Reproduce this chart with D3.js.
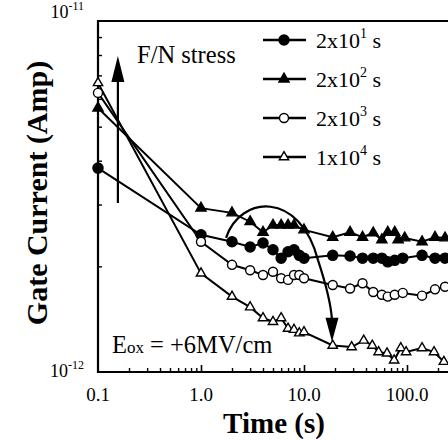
<!DOCTYPE html>
<html>
<head>
<meta charset="utf-8">
<script src="https://cdn.jsdelivr.net/npm/d3@7"></script>
<style>
  body { margin: 0; background: #fff; }
  svg { display: block; font-family: "Liberation Serif", "Times New Roman", serif; }
</style>
</head>
<body>
<div id="chart"></div>
<script>
// Data - time (s) and gate current (in units of 1e-12 A), one pair of arrays per curve
const t2e1 = [0.1, 1, 2, 3, 4, 5, 6, 7, 8, 9, 10, 19, 28, 37, 47, 57, 65, 76, 91, 140, 187, 234];
const i2e1 = [3.81, 2.46, 2.35, 2.27, 2.33, 2.23, 2.11, 2.20, 2.23, 2.15, 2.11, 2.15, 2.14, 2.11, 2.11, 2.11, 2.06, 2.08, 2.11, 2.15, 2.11, 2.11];

const t2e2 = [0.1, 1, 2, 3, 4, 5, 6, 7, 8, 10, 19, 28, 37, 47, 57, 65, 76, 82, 95, 140, 187, 234];
const i2e2 = [5.65, 2.93, 2.84, 2.68, 2.50, 2.62, 2.62, 2.62, 2.62, 2.54, 2.42, 2.50, 2.42, 2.49, 2.38, 2.50, 2.50, 2.38, 2.41, 2.35, 2.42, 2.41];

const t2e3 = [0.1, 1, 2, 3, 4, 5, 6, 7, 8, 9, 10, 19, 28, 37, 47, 57, 65, 76, 91, 140, 187, 234];
const i2e3 = [6.24, 2.35, 2.02, 1.95, 1.89, 1.93, 1.85, 1.83, 1.89, 1.89, 1.85, 1.77, 1.73, 1.79, 1.69, 1.66, 1.64, 1.66, 1.68, 1.65, 1.72, 1.75];

const t1e4 = [0.1, 1, 2, 3, 4, 5, 6, 7, 8, 9, 10, 19, 29, 38, 46, 53, 64, 75, 87, 98, 140, 183, 228];
const i1e4 = [6.66, 1.91, 1.64, 1.53, 1.425, 1.39, 1.425, 1.33, 1.32, 1.29, 1.30, 1.19, 1.178, 1.23, 1.19, 1.14, 1.13, 1.08, 1.17, 1.14, 1.17, 1.14, 1.07];

const seriesNames = ['2x10|1', '2x10|2', '2x10|3', '1x10|4'];
const xTickLabels = ['0.1', '1.0', '10.0', '100.0'];
const xTickValues = [0.1, 1, 10, 100];

// Annotations, in data units (time, current)
const fnArrow = [[0.156, 3.03], [0.156, 7.95]];
const recoveryArc = [[1.75, 2.41], [2.39, 3.19], [9.14, 3.30], [13.7, 2.08], [16.2, 1.79], [18.4, 1.55], [18.7, 1.40]];
const recoveryTip = [18.7, 1.22];

const width = 448, height = 440;

// Scales
const x = d3.scaleLog().domain([0.1, 100]).range([98, 407]);
const y = d3.scaleLog().domain([1, 10]).range([372, 21]);

// Container
const svg = d3.select('#chart')
  .append('svg')
  .attr('width', width)
  .attr('height', height);

// Frame - left, top and bottom, runs off the right edge
svg.append('path')
  .attr('d', `M${width},${y(10)}H${x(0.1)}V${y(1)}H${width}`)
  .attr('fill', 'none')
  .attr('stroke', '#000')
  .attr('stroke-width', 2.2);

// Axes - ticks point inwards
const minorX = [];
[0.1, 1, 10, 100].forEach(d => d3.range(2, 10).forEach(k => { if (k * d < 250) minorX.push(k * d); }));

svg.append('g')
  .attr('transform', `translate(0,${y(1)})`)
  .call(d3.axisBottom(x).tickValues(minorX).tickSize(-4).tickFormat(''))
  .call(g => g.select('.domain').remove())
  .selectAll('line').attr('stroke-width', 1.4);

svg.append('g')
  .attr('transform', `translate(0,${y(1)})`)
  .call(d3.axisBottom(x).tickValues([1, 10, 100]).tickSize(-7).tickFormat(''))
  .call(g => g.select('.domain').remove())
  .selectAll('line').attr('stroke-width', 1.6);

svg.append('g')
  .attr('transform', `translate(${x(0.1)},0)`)
  .call(d3.axisLeft(y).tickValues(d3.range(2, 10)).tickSize(-4).tickFormat(''))
  .call(g => g.select('.domain').remove())
  .selectAll('line').attr('stroke-width', 1.4);

// Tick labels
svg.append('g')
  .selectAll('text')
  .data(xTickValues)
  .join('text')
  .attr('x', d => x(d))
  .attr('y', 401)
  .attr('text-anchor', 'middle')
  .attr('font-size', 19)
  .text((d, i) => xTickLabels[i]);

const yLab = svg.append('g')
  .selectAll('text')
  .data([[10, '-11', -3], [1, '-12', 5]])
  .join('text')
  .attr('x', 84)
  .attr('y', d => y(d[0]) + d[2])
  .attr('text-anchor', 'end')
  .attr('font-size', 18);
yLab.append('tspan').text('10');
yLab.append('tspan').attr('font-size', 12).attr('dy', -8).text(d => d[1]);

// Axis titles
svg.append('text')
  .attr('x', 274)
  .attr('y', 433)
  .attr('text-anchor', 'middle')
  .attr('font-size', 29)
  .attr('font-weight', 'bold')
  .text('Time (s)');

svg.append('text')
  .attr('transform', 'translate(47,193) rotate(-90)')
  .attr('text-anchor', 'middle')
  .attr('font-size', 30)
  .attr('font-weight', 'bold')
  .text('Gate Current (Amp)');

// Curves
const series = [
  { t: t2e1, v: i2e1, type: d3.symbolCircle, size: 80, fill: '#000' },
  { t: t2e2, v: i2e2, type: d3.symbolTriangle, size: 45, fill: '#000' },
  { t: t2e3, v: i2e3, type: d3.symbolCircle, size: 64, fill: '#fff' },
  { t: t1e4, v: i1e4, type: d3.symbolTriangle, size: 38, fill: '#fff' }
];

const line = d3.line().x(d => x(d[0])).y(d => y(d[1]));

const plot = svg.append('g');
series.forEach(s => {
  const pts = s.t.map((d, i) => [d, s.v[i]]);
  plot.append('path')
    .datum(pts)
    .attr('d', line)
    .attr('fill', 'none')
    .attr('stroke', '#000')
    .attr('stroke-width', 2);
});
series.forEach(s => {
  const pts = s.t.map((d, i) => [d, s.v[i]]);
  plot.selectAll(null)
    .data(pts)
    .join('path')
    .attr('transform', d => `translate(${x(d[0])},${y(d[1])})`)
    .attr('d', d3.symbol().type(s.type).size(s.size))
    .attr('fill', s.fill)
    .attr('stroke', '#000')
    .attr('stroke-width', 1.4);
});

// Legend
const legend = svg.append('g')
  .selectAll('g')
  .data(series)
  .join('g')
  .attr('transform', (d, i) => `translate(263,${40 + i * 39})`);
legend.append('line')
  .attr('x2', 43)
  .attr('stroke', '#000')
  .attr('stroke-width', 2.5);
legend.append('path')
  .attr('transform', 'translate(21,0)')
  .attr('d', d => d3.symbol().type(d.type).size(d.size)())
  .attr('fill', d => d.fill)
  .attr('stroke', '#000')
  .attr('stroke-width', 1.4);
const legText = legend.append('text')
  .attr('x', 53)
  .attr('y', 8)
  .attr('font-size', 22);
legText.append('tspan').text((d, i) => seriesNames[i].split('|')[0]);
legText.append('tspan').attr('font-size', 14).attr('dy', -10).text((d, i) => seriesNames[i].split('|')[1]);
legText.append('tspan').attr('dy', 10).text(' s');

// Annotations
svg.append('text')
  .attr('x', 137)
  .attr('y', 63)
  .attr('font-size', 24.5)
  .text('F/N stress');

svg.append('line')
  .attr('x1', x(fnArrow[0][0])).attr('y1', y(fnArrow[0][1]))
  .attr('x2', x(fnArrow[1][0])).attr('y2', y(fnArrow[1][1]) + 20)
  .attr('stroke', '#000')
  .attr('stroke-width', 2.2);
svg.append('path')
  .attr('transform', `translate(${x(fnArrow[1][0])},${y(fnArrow[1][1])})`)
  .attr('d', 'M0,0L6.5,26L-6.5,26Z');

const arc = recoveryArc.map(d => [x(d[0]), y(d[1])]);
svg.append('path')
  .attr('d', `M${arc[0]}C${arc[1]} ${arc[2]} ${arc[3]}C${arc[4]} ${arc[5]} ${arc[6]}`)
  .attr('fill', 'none')
  .attr('stroke', '#000')
  .attr('stroke-width', 2.2);
svg.append('path')
  .attr('transform', `translate(${x(recoveryTip[0])},${y(recoveryTip[1])})`)
  .attr('d', 'M0,0L6.5,-24L-6.5,-24Z');

const eox = svg.append('text')
  .attr('x', 112)
  .attr('y', 353)
  .attr('font-size', 24.5);
eox.append('tspan').text('E');
eox.append('tspan').attr('font-size', 17).text('ox');
eox.append('tspan').text(' = +6MV/cm');
</script>
</body>
</html>
